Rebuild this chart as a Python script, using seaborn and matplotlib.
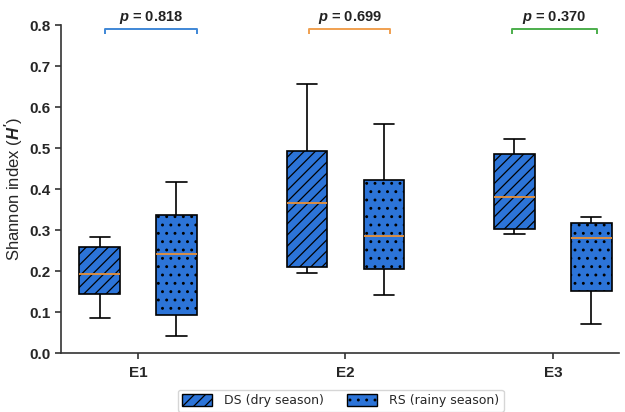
import numpy as np
import pandas as pd
import matplotlib
matplotlib.use("Agg")
import matplotlib.pyplot as plt
import matplotlib.patches as mpatches
import seaborn as sns

# ---- data (five-number summaries: min, Q1, median, Q3, max)
sites = ["E1", "E2", "E3"]
seasons = ["DS", "RS"]
season_labels = ["DS (dry season)", "RS (rainy season)"]
ds_stats = {
    "E1": [0.086, 0.145, 0.193, 0.259, 0.284],
    "E2": [0.195, 0.211, 0.367, 0.492, 0.656],
    "E3": [0.290, 0.303, 0.380, 0.487, 0.523],
}
rs_stats = {
    "E1": [0.042, 0.093, 0.242, 0.337, 0.417],
    "E2": [0.142, 0.205, 0.286, 0.423, 0.559],
    "E3": [0.071, 0.153, 0.280, 0.318, 0.333],
}
p_values = ["0.818", "0.699", "0.370"]
y_ticks = [0.0, 0.1, 0.2, 0.3, 0.4, 0.5, 0.6, 0.7, 0.8]

rows = []
for s in sites:
    for v in ds_stats[s]:
        rows.append((s, "DS", v))
    for v in rs_stats[s]:
        rows.append((s, "RS", v))
df = pd.DataFrame(rows, columns=["site", "season", "H"])

# ---- style
sns.set_theme(style="ticks")
plt.rcParams["font.family"] = ["Liberation Sans", "DejaVu Sans"]
plt.rcParams["mathtext.fontset"] = "custom"
plt.rcParams["mathtext.it"] = "Liberation Sans:italic:bold"
plt.rcParams["mathtext.rm"] = "Liberation Sans:bold"
plt.rcParams["hatch.linewidth"] = 0.9
plt.rcParams["hatch.color"] = "black"

box_color = "#2c74d8"
median_color = "#e8913a"
bracket_colors = ["#3f87d6", "#f0a050", "#4cae4c"]

fig = plt.figure(figsize=(6.25, 4.12), dpi=100)
ax = fig.add_axes([0.0976, 0.1425, 0.8924, 0.7965])

sns.boxplot(
    data=df, x="site", y="H", hue="season", order=sites, hue_order=seasons,
    palette={"DS": box_color, "RS": box_color}, whis=(0, 100),
    width=0.74, gap=0.47, linecolor="black", linewidth=1.2,
    medianprops={"color": median_color, "linewidth": 1.3},
    saturation=1, legend=False, ax=ax,
)

# hatch boxes according to their side of the category
for patch in ax.patches:
    verts = patch.get_path().vertices
    cx = verts[:, 0].mean()
    if cx - round(cx) < 0:
        patch.set_hatch("///")
    else:
        patch.set_hatch("..")
    patch.set_edgecolor("black")

ax.set_xlim(-0.372, 2.318)
ax.set_ylim(0, 0.8)
ax.set_yticks(y_ticks)
ax.set_yticklabels([f"{t:.1f}" for t in y_ticks])
ax.set_xlabel("")
ax.set_ylabel("Shannon index ($\\it{H'}$)", fontsize=12, labelpad=3)
sns.despine(ax=ax)
for side in ["left", "bottom"]:
    ax.spines[side].set_linewidth(1.2)
    ax.spines[side].set_color("#333333")
ax.tick_params(axis="both", width=1.2, length=4, color="#333333", labelsize=11)
ax.tick_params(axis="x", pad=5)
for lab in ax.get_xticklabels() + ax.get_yticklabels():
    lab.set_fontweight("bold")

# p-value brackets
bracket_spans = [(-0.158, 0.282), (-0.177, 0.217), (-0.196, 0.211)]
for i, (p, col, (l, r)) in enumerate(zip(p_values, bracket_colors, bracket_spans)):
    x0, x1 = i + l, i + r
    ax.plot([x0, x0, x1, x1], [0.778, 0.791, 0.791, 0.778], color=col, lw=1.4,
            clip_on=False, solid_capstyle="butt")
    ax.text((x0 + x1) / 2, 0.797, f"$\\it{{p}}$ = {p}", ha="center", va="bottom",
            fontsize=10.5, fontweight="bold", color="#222222", clip_on=False)

handles = [
    mpatches.Patch(facecolor=box_color, edgecolor="black", hatch="///", label=season_labels[0]),
    mpatches.Patch(facecolor=box_color, edgecolor="black", hatch="..", label=season_labels[1]),
]
leg = fig.legend(handles=handles, loc="upper center", bbox_to_anchor=(0.545, 0.069),
                 ncol=2, frameon=True, handlelength=2.4, handleheight=1.0,
                 columnspacing=1.8, handletextpad=1.0, borderpad=0.35,
                 prop={"family": "DejaVu Sans", "size": 9})
leg.get_frame().set_edgecolor("#cccccc")

fig.savefig("out.png", dpi=100)
